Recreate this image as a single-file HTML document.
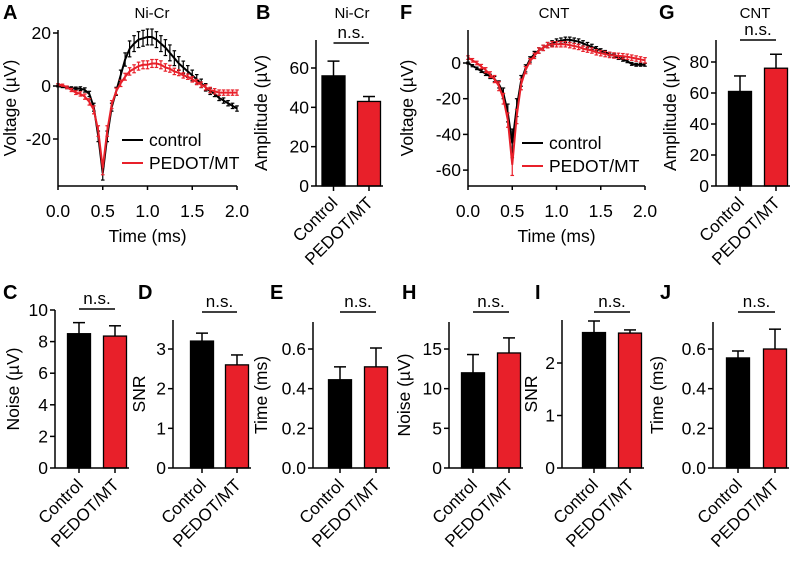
<!DOCTYPE html>
<html><head><meta charset="utf-8"><style>
body{margin:0;background:#fff}
svg{display:block;font-family:"Liberation Sans",Arial,sans-serif}
</style></head><body>
<svg id="fig" width="803" height="566" viewBox="0 0 803 566" xmlns="http://www.w3.org/2000/svg"></svg>
<script>
// ---- Trace data (t = 0..2 ms step 0.05) ----
const timeTicks = [0.0, 0.5, 1.0, 1.5, 2.0];
const nicrControl = [0,-0.3,-0.6,-0.8,-1,-1,-1.5,-3,-8,-19,-33,-19,-8,-2,4,10,14,16,17.5,18,18.5,18.5,17.5,16,14.5,12.5,10.5,8.5,7,5.5,4,2.5,1,-0.5,-2,-3,-4.5,-5.5,-6.5,-7.5,-8.5];
const nicrControlErr = [0.3,0.3,0.4,0.5,0.6,0.7,0.8,1,1.5,2,2.5,2,1.5,1.5,2,2.5,3,3,3,3,3,3,3,3,3,3,2.8,2.6,2.4,2.2,2,1.8,1.6,1.4,1.2,1,1,1,1,1,1];
const nicrPedot = [0.5,0.3,-0.5,-1.5,-2.5,-3,-4,-6,-9,-17,-31,-17,-7,-2,1,3.5,5.5,6.5,7.5,8,8,8.5,8.5,8,7,6.5,5.5,5,4,3.5,2.5,1.5,0.5,-0.5,-1.5,-2,-2.5,-2.5,-2.5,-2.5,-2.5];
const nicrPedotErr = [0.4,0.4,0.5,0.6,0.7,0.8,1,1.2,1.5,2,2.5,2,1.5,1.2,1.2,1.3,1.4,1.5,1.5,1.5,1.5,1.5,1.5,1.5,1.4,1.3,1.2,1.1,1,1,1,1,1,1,1,1,1,1,1,1,1];
const nicrTicks = [-20, 0, 20];
const cntControl = [0,-1.5,-3,-4.5,-6,-7.5,-9,-12,-17,-28,-45,-25,-10,-3,2,5,7,8.5,10,11,12,12.5,13,13,12.5,12,11,10,9,8,7,6,5,4,3,2,1,-0.5,-1,-1,-1];
const cntControlErr = [0.5,0.6,0.7,0.8,1,1.2,1.5,2,3,5,8,5,3,2,1.5,1.5,1.5,1.5,1.5,1.5,1.5,1.5,1.5,1.5,1.5,1.5,1.5,1.5,1.5,1.2,1,1,1,1,1,1,0.8,0.8,0.8,0.8,0.8];
const cntPedot = [3,1.5,0,-2,-4,-6.5,-9,-13,-20,-32,-57,-30,-12,-4,1,4,7,8.5,10,10.5,10.5,10.5,10.5,10,9.5,9,8,7.5,7,6,5.5,5,4.5,4.2,4,3.8,3.5,3,2.5,2,1.5];
const cntPedotErr = [1,1,1,1.2,1.4,1.6,2,2.5,3,4,6,4,3,2,1.5,1.5,1.5,1.5,1.5,1.5,1.5,1.5,1.5,1.5,1.5,1.5,1.5,1.5,1.5,1.5,1.5,1.5,1.5,1.5,1.5,1.5,1.5,1.5,1.5,1.5,1.5];
const cntTicks = [-60, -40, -20, 0];
// ---- Bar data ----
const groups = ["Control", "PEDOT/MT"];
const ampNiCr = [56, 43], ampNiCrErr = [63.5, 45.5];
const ampCnt = [61, 76], ampCntErr = [71, 85];
const noiseNiCr = [8.5, 8.35], noiseNiCrErr = [9.2, 9.0];
const snrNiCr = [3.2, 2.6], snrNiCrErr = [3.4, 2.85];
const timeNiCr = [0.445, 0.51], timeNiCrErr = [0.51, 0.605];
const noiseCnt = [12, 14.5], noiseCntErr = [14.3, 16.4];
const snrCnt = [2.58, 2.57], snrCntErr = [2.8, 2.63];
const timeCnt = [0.555, 0.6], timeCntErr = [0.59, 0.70];

const NS="http://www.w3.org/2000/svg", svg=document.getElementById('fig');
function mk(tag, at, parent, txt){const e=document.createElementNS(NS,tag);for(const k in at)e.setAttribute(k,at[k]);if(txt!==undefined)e.textContent=txt;(parent||svg).appendChild(e);return e;}
function txt(x,y,s,size,anchor,parent,rot,bold){const at={x:x,y:y,'font-size':size,'text-anchor':anchor||'middle',fill:'#000'};if(bold)at['font-weight']='bold';if(rot!==undefined)at.transform='rotate('+rot+' '+x+' '+y+')';return mk('text',at,parent,s);}
const RED='#e8202a';
const TK=17.5, AX=17.5;

function tracePanel(o){
  const g=mk('g',{});
  
  
  const X=t=>o.x0+(t-0)/(2-0)*(o.x1-o.x0);
  const Y=v=>o.yZero-(v)*o.k;
  [[o.c,o.ce,'#000','control'],[o.p,o.pe,RED,'pedot']].forEach(([d,e,col,nm])=>{
    const sg=mk('g',{},g);
    
    
    d.forEach((v,i)=>{const x=X(i*0.05);
      mk('line',{x1:x,x2:x,y1:Y(v-e[i]),y2:Y(v+e[i]),stroke:col,'stroke-width':1.2},sg);
      mk('line',{x1:x-1.8,x2:x+1.8,y1:Y(v+e[i]),y2:Y(v+e[i]),stroke:col,'stroke-width':1.2},sg);
      mk('line',{x1:x-1.8,x2:x+1.8,y1:Y(v-e[i]),y2:Y(v-e[i]),stroke:col,'stroke-width':1.2},sg);
    });
    mk('polyline',{points:d.map((v,i)=>X(i*0.05)+','+Y(v)).join(' '),fill:'none',stroke:col,'stroke-width':2},sg);
  });
  const ax=mk('g',{},g);
  
  
  mk('line',{x1:o.x0,x2:o.x0,y1:o.yTop,y2:o.yBot,stroke:'#000','stroke-width':1.5},ax);
  mk('line',{x1:o.x0,x2:o.x1,y1:o.yBot,y2:o.yBot,stroke:'#000','stroke-width':1.5},ax);
  o.ticks.forEach(v=>{mk('line',{x1:o.x0-5,x2:o.x0,y1:Y(v),y2:Y(v),stroke:'#000','stroke-width':1.5},ax);txt(o.x0-7,Y(v)+6,String(v),TK,'end',ax);});
  timeTicks.forEach(t=>{mk('line',{x1:X(t),x2:X(t),y1:o.yBot,y2:o.yBot+4,stroke:'#000','stroke-width':1.5},ax);txt(X(t),o.yBot+31,t.toFixed(1),TK,'middle',ax);});
  txt((o.x0+o.x1)/2,o.yBot+56,'Time (ms)',AX,'middle',ax);
  txt(o.ylx,(o.yTop+o.yBot)/2,'Voltage (µV)',AX,'middle',ax,-90);
  txt(o.titleX,18,o.title,15,'middle',g);
  txt(o.lx,19,o.letter,20,'start',g,undefined,true);
  const lg=mk('g',{},g);
  
  
  mk('line',{x1:o.legX,x2:o.legX+21,y1:o.legY,y2:o.legY,stroke:'#000','stroke-width':2},lg);
  txt(o.legX+27,o.legY+6,'control',17.5,'start',lg);
  mk('line',{x1:o.legX,x2:o.legX+21,y1:o.legY+23,y2:o.legY+23,stroke:RED,'stroke-width':2},lg);
  txt(o.legX+27,o.legY+29,'PEDOT/MT',17.5,'start',lg);
}

function barPanel(o){
  const g=mk('g',{});
  
  
  const Y=v=>o.y0-v/o.vref*(o.y0-o.yref);
  const cols=['#000',RED];
  o.vals.forEach((v,i)=>{const cx=o.cx[i];
    const b=mk('rect',{x:cx-11.5,y:Y(v),width:23,height:o.y0-Y(v),fill:cols[i],stroke:'#000','stroke-width':1.3},g);
    
    
    mk('line',{x1:cx,x2:cx,y1:Y(v),y2:Y(o.errs[i]),stroke:'#000','stroke-width':1.5},g);
    mk('line',{x1:cx-6,x2:cx+6,y1:Y(o.errs[i]),y2:Y(o.errs[i]),stroke:'#000','stroke-width':1.5},g);
    mk('line',{x1:cx,x2:cx,y1:o.y0,y2:o.y0+5,stroke:'#000','stroke-width':1.5},g);
    txt(cx+5,o.y0+18,groups[i],17,'end',g,-45);
  });
  mk('line',{x1:o.ax,x2:o.ax,y1:o.yTop,y2:o.y0,stroke:'#000','stroke-width':1.5},g);
  mk('line',{x1:o.ax,x2:o.cx[1]+14,y1:o.y0,y2:o.y0,stroke:'#000','stroke-width':1.5},g);
  o.ticks.forEach(v=>{mk('line',{x1:o.ax-5,x2:o.ax,y1:Y(v),y2:Y(v),stroke:'#000','stroke-width':1.5},g);txt(o.ax-7,Y(v)+6,o.fmt?v.toFixed(o.fmt):String(v),TK,'end',g);});
  txt(o.ylx,(o.yTop+o.y0)/2,o.ylabel,AX,'middle',g,-90);
  mk('line',{x1:o.cx[0],x2:o.cx[1],y1:o.nsY,y2:o.nsY,stroke:'#000','stroke-width':1.5},g);
  txt((o.cx[0]+o.cx[1])/2,o.nsY-5,'n.s.',17,'middle',g);
  if(o.title)txt(o.titleX,18,o.title,15,'middle',g);
  txt(o.lx,o.ly,o.letter,20,'start',g,undefined,true);
}

tracePanel({name:'panel-a-nicr-trace',x0:58,x1:237,yZero:86,k:2.65,yTop:30,yBot:186,ticks:nicrTicks,c:nicrControl,ce:nicrControlErr,p:nicrPedot,pe:nicrPedotErr,ylx:16,title:'Ni-Cr',titleX:152,letter:'A',lx:3,legX:122,legY:140});
tracePanel({name:'panel-f-cnt-trace',x0:468,x1:645,yZero:63,k:1.785,yTop:30,yBot:186,ticks:cntTicks,c:cntControl,ce:cntControlErr,p:cntPedot,pe:cntPedotErr,ylx:413,title:'CNT',titleX:554,letter:'F',lx:400,legX:522,legY:143});

barPanel({name:'panel-b-nicr-amplitude',ax:316,cx:[333.5,369],y0:186,vref:60,yref:68,yTop:40,ticks:[0,20,40,60],vals:ampNiCr,errs:ampNiCrErr,ylx:267,ylabel:'Amplitude (µV)',nsY:43,title:'Ni-Cr',titleX:352,letter:'B',lx:256,ly:19});
barPanel({name:'panel-g-cnt-amplitude',ax:716,cx:[740,776],y0:186,vref:80,yref:62,yTop:40,ticks:[0,20,40,60,80],vals:ampCnt,errs:ampCntErr,ylx:676,ylabel:'Amplitude (µV)',nsY:40,title:'CNT',titleX:755,letter:'G',lx:659,ly:19});
barPanel({name:'panel-c-nicr-noise',ax:55,cx:[79,115],y0:468,vref:10,yref:310,yTop:310,ticks:[0,2,4,6,8,10],vals:noiseNiCr,errs:noiseNiCrErr,ylx:19,ylabel:'Noise (µV)',nsY:309,letter:'C',lx:3,ly:299});
barPanel({name:'panel-d-nicr-snr',ax:173,cx:[202,237],y0:468,vref:3,yref:349,yTop:320,ticks:[0,1,2,3],vals:snrNiCr,errs:snrNiCrErr,ylx:145,ylabel:'SNR',nsY:312,letter:'D',lx:138,ly:299});
barPanel({name:'panel-e-nicr-time',ax:313,cx:[340,376],y0:468,vref:0.6,yref:349,yTop:322,ticks:[0,0.2,0.4,0.6],fmt:1,vals:timeNiCr,errs:timeNiCrErr,ylx:267,ylabel:'Time (ms)',nsY:312,letter:'E',lx:270,ly:299});
barPanel({name:'panel-h-cnt-noise',ax:449,cx:[473,509],y0:468,vref:15,yref:349,yTop:322,ticks:[0,5,10,15],vals:noiseCnt,errs:noiseCntErr,ylx:410,ylabel:'Noise (µV)',nsY:312,letter:'H',lx:402,ly:299});
barPanel({name:'panel-i-cnt-snr',ax:562,cx:[594,630],y0:468,vref:2,yref:363,yTop:320,ticks:[0,1,2],vals:snrCnt,errs:snrCntErr,ylx:537,ylabel:'SNR',nsY:312,letter:'I',lx:535,ly:299});
barPanel({name:'panel-j-cnt-time',ax:713,cx:[738,775],y0:468,vref:0.6,yref:349,yTop:322,ticks:[0,0.2,0.4,0.6],fmt:1,vals:timeCnt,errs:timeCntErr,ylx:663,ylabel:'Time (ms)',nsY:312,letter:'J',lx:660,ly:299});
</script>
</body></html>
